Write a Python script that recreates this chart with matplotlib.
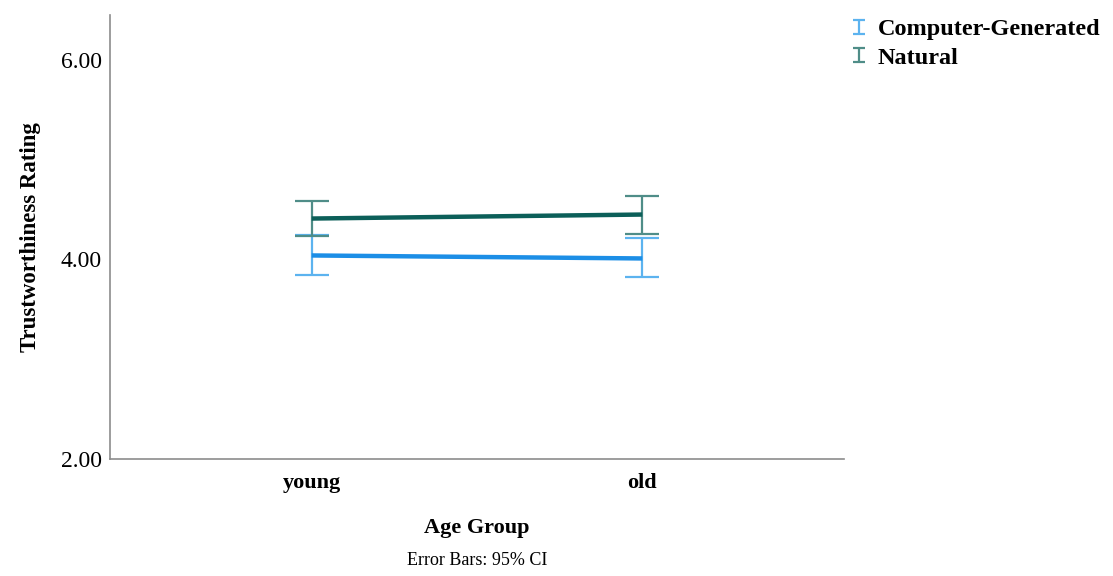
"""Trustworthiness rating by age group, interaction plot with 95% CI error bars."""

import matplotlib

matplotlib.use("Agg")
import matplotlib.pyplot as plt
from matplotlib.container import ErrorbarContainer
from matplotlib.legend_handler import HandlerErrorbar
from matplotlib.lines import Line2D

plt.rcParams["font.family"] = ["Liberation Serif", "DejaVu Serif"]

# data
age_groups = ["young", "old"]
cg_mean = [4.04, 4.01]
cg_low = [3.84, 3.82]
cg_high = [4.24, 4.21]
nat_mean = [4.41, 4.45]
nat_low = [4.23, 4.26]
nat_high = [4.59, 4.64]

series = [
    ("Computer-Generated", cg_mean, cg_low, cg_high, "#1c8ee6", "#5cb3ef"),
    ("Natural", nat_mean, nat_low, nat_high, "#0c5f59", "#4f8d88"),
]


def small_caps(handle, orig):
    # copy style from the plot, then shrink the caps used in the legend
    handle.update_from(orig)
    if isinstance(handle, Line2D):
        handle.set_markersize(8)


fig = plt.figure(figsize=(11.13, 5.76), dpi=100)
ax = fig.add_axes([0.0988, 0.2031, 0.6595, 0.7709])

x = list(range(len(age_groups)))
handles = []
for label, mean, low, high, line_color, bar_color in series:
    err = [[m - lo for m, lo in zip(mean, low)], [hi - m for m, hi in zip(mean, high)]]
    ax.plot(x, mean, color=line_color, lw=3.2, solid_capstyle="butt", zorder=3)
    eb = ax.errorbar(x, mean, yerr=err, fmt="none", ecolor=bar_color, elinewidth=1.6,
                     capsize=12, capthick=1.6, zorder=2, label=label)
    handles.append(eb)

ax.set_xlim(-0.61, 1.61)
ax.set_ylim(2.0, 6.45)
ax.set_xticks(x)
ax.set_xticklabels(age_groups, fontsize=16, fontweight="bold")
ax.set_yticks([2, 4, 6])
ax.set_yticklabels(["2.00", "4.00", "6.00"], fontsize=17)
ax.tick_params(length=0, pad=6)
ax.tick_params(axis="x", pad=10)

ax.set_xlabel("Age Group", fontsize=16, fontweight="bold", labelpad=18)
ax.set_ylabel("Trustworthiness Rating", fontsize=16.5, fontweight="bold", labelpad=14)

for side in ["top", "right"]:
    ax.spines[side].set_visible(False)
for side in ["left", "bottom"]:
    ax.spines[side].set_color("#8c8c8c")
    ax.spines[side].set_linewidth(1.2)

fig.legend(handles=handles, loc="upper left", bbox_to_anchor=(0.746, 1.006),
           frameon=False, prop={"size": 17.5, "weight": "bold"},
           handlelength=0.6, handletextpad=0.45, labelspacing=0.25,
           handler_map={ErrorbarContainer: HandlerErrorbar(yerr_size=0.28, update_func=small_caps)})

fig.text(0.4286, 0.012, "Error Bars: 95% CI", ha="center", va="bottom", fontsize=13)

fig.savefig("out.png", dpi=100)
